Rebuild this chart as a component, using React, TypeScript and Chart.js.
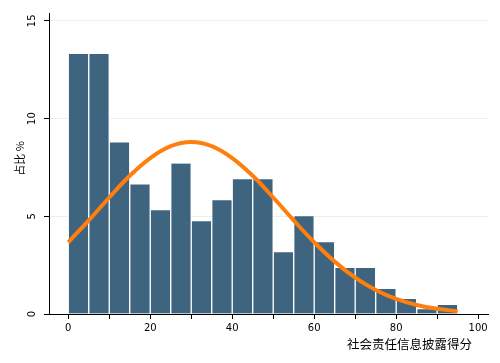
import React, { useEffect, useRef } from "react";
import { Chart, registerables } from "chart.js";

Chart.register(...registerables);

// Histogram bins (centre of each 5-point bin) and their percentages
const binCenters = [2.5, 7.5, 12.5, 17.5, 22.5, 27.5, 32.5, 37.5, 42.5, 47.5, 52.5, 57.5, 62.5, 67.5, 72.5, 77.5, 82.5, 87.5, 92.5];
const binPercents = [13.3, 13.3, 8.78, 6.63, 5.31, 7.7, 4.74, 5.82, 6.9, 6.9, 3.16, 5.0, 3.67, 2.35, 2.35, 1.28, 0.77, 0.24, 0.46];

// Fitted normal curve
const curveX = [0, 5, 10, 15, 20, 25, 30, 35, 40, 45, 50, 55, 60, 65, 70, 75, 80, 85, 90, 95];
const curveY = [3.67, 4.79, 5.96, 7.07, 7.98, 8.59, 8.8, 8.59, 7.98, 7.07, 5.96, 4.79, 3.67, 2.68, 1.86, 1.23, 0.77, 0.46, 0.27, 0.14];

// Axis ticks
const xTicks = [0, 10, 20, 30, 40, 50, 60, 70, 80, 90, 100];
const xLabelled = [0, 20, 40, 60, 80, 100];
const yTicks = [0, 5, 10, 15];

const xTitle = "社会责任信息披露得分";
const yTitle = "占比 %";

const titlePlugin = {
  id: "stataTitles",
  afterDraw(chart: any) {
    const ctx = chart.ctx;
    ctx.save();
    ctx.fillStyle = "#000";
    ctx.font = '12.5px "Noto Sans CJK SC"';
    ctx.textAlign = "right";
    ctx.textBaseline = "middle";
    ctx.fillText(xTitle, 472, 344);
    ctx.translate(20, 158.5);
    ctx.rotate(-Math.PI / 2);
    ctx.font = '11px "Noto Sans CJK SC"';
    ctx.textAlign = "center";
    ctx.fillText(yTitle, 0, 0);
    ctx.restore();
  },
};

export default function App() {
  const ref = useRef<HTMLCanvasElement | null>(null);

  useEffect(() => {
    document.body.style.margin = "0";
    const canvas = ref.current;
    if (!canvas) return;
    const chart = new Chart(canvas, {
      type: "bar",
      data: {
        datasets: [
          {
            type: "line",
            data: curveX.map((x, i) => ({ x, y: curveY[i] })),
            borderColor: "#ff7f0e",
            borderWidth: 4,
            pointRadius: 0,
            tension: 0.4,
            fill: false,
            order: 0,
          } as any,
          {
            type: "bar",
            data: binCenters.map((x, i) => ({ x, y: binPercents[i] })),
            backgroundColor: "#3e6480",
            borderColor: "#ffffff",
            borderWidth: { left: 1, right: 1, top: 0, bottom: 0 },
            borderSkipped: false,
            barPercentage: 1,
            categoryPercentage: 1,
            order: 1,
          } as any,
        ],
      },
      options: {
        responsive: false,
        animation: false,
        devicePixelRatio: 1,
        layout: { padding: { top: 13, right: 12, left: 0, bottom: 0 } },
        plugins: {
          legend: { display: false },
          tooltip: { enabled: false },
        },
        scales: {
          x: {
            type: "linear",
            offset: false,
            min: -4.7,
            max: 102.4,
            afterBuildTicks: (scale: any) => {
              scale.ticks = xTicks.map((v) => ({ value: v }));
            },
            afterFit: (scale: any) => {
              scale.height = 49;
            },
            ticks: {
              autoSkip: false,
              maxRotation: 0,
              minRotation: 0,
              padding: 3,
              color: "#000",
              font: { family: "DejaVu Sans", size: 10 },
              callback: (v: any) => (xLabelled.includes(Number(v)) ? String(v) : ""),
            },
            grid: {
              offset: false,
              drawOnChartArea: false,
              drawTicks: true,
              tickLength: 5,
              tickColor: "#000",
            },
            border: { display: true, color: "#000", width: 1 },
          },
          y: {
            type: "linear",
            min: 0,
            max: 15.4,
            afterBuildTicks: (scale: any) => {
              scale.ticks = yTicks.map((v) => ({ value: v }));
            },
            afterFit: (scale: any) => {
              scale.width = 49;
            },
            ticks: {
              autoSkip: false,
              minRotation: 90,
              maxRotation: 90,
              crossAlign: "center",
              padding: 5,
              color: "#000",
              font: { family: "DejaVu Sans", size: 10 },
            },
            grid: {
              drawOnChartArea: true,
              drawTicks: true,
              tickLength: 5,
              tickColor: "#000",
              color: (c: any) => (c.tick && c.tick.value === 0 ? "rgba(0,0,0,0)" : "#e8eff1"),
              lineWidth: 1,
            },
            border: { display: true, color: "#000", width: 1 },
          },
        },
      },
      plugins: [titlePlugin],
    });
    return () => chart.destroy();
  }, []);

  return (
    <div style={{ width: 500, height: 363, background: "#fff" }}>
      <canvas ref={ref} width={500} height={363} />
    </div>
  );
}
